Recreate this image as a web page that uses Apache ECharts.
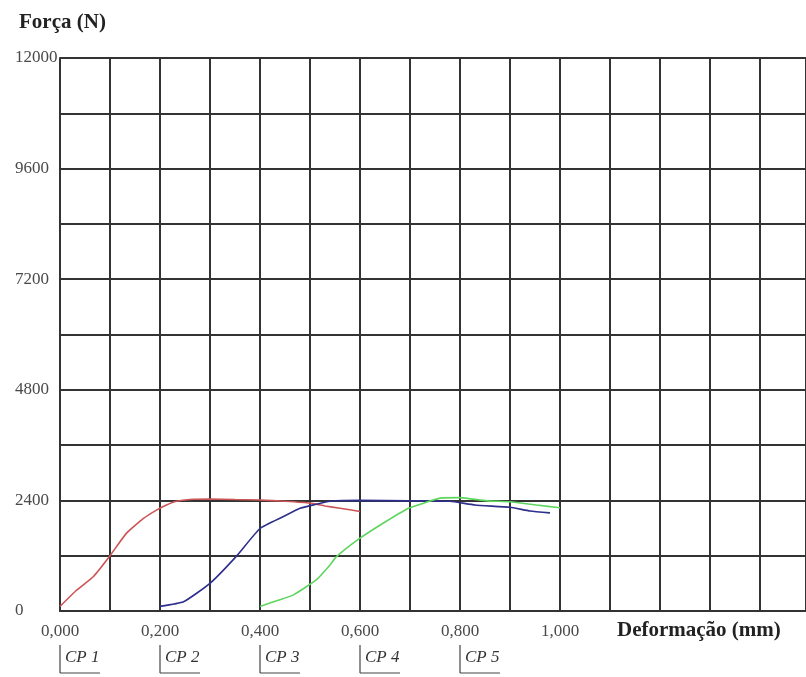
<!DOCTYPE html>
<html>
<head>
<meta charset="utf-8">
<title>Força x Deformação</title>
<script src="https://cdn.jsdelivr.net/npm/echarts@6/dist/echarts.min.js"></script>
<style>
  html, body { margin: 0; padding: 0; background: #ffffff; }
  #chart { width: 806px; height: 677px; }
</style>
</head>
<body>
<div id="chart"></div>
<script>
// Load–displacement curves of the specimens: [deformação (mm), força (N)]
const cp1 = [[0, 100], [0.033, 450], [0.067, 750], [0.1, 1200], [0.133, 1690], [0.167, 2010],
  [0.193, 2190], [0.213, 2300], [0.233, 2380], [0.26, 2420], [0.3, 2430], [0.35, 2420],
  [0.4, 2410], [0.45, 2380], [0.5, 2340], [0.53, 2280], [0.56, 2230], [0.6, 2160]];

const cp2 = [[0.2, 100], [0.247, 200], [0.3, 600], [0.353, 1190], [0.4, 1790], [0.447, 2050],
  [0.48, 2230], [0.51, 2310], [0.54, 2380], [0.6, 2400], [0.7, 2390], [0.78, 2380],
  [0.83, 2300], [0.9, 2250], [0.94, 2170], [0.98, 2130]];

const cp3 = [[0.4, 100], [0.433, 220], [0.467, 350], [0.513, 680], [0.54, 1000], [0.553, 1180],
  [0.6, 1580], [0.647, 1910], [0.697, 2230], [0.727, 2340], [0.76, 2450], [0.8, 2460],
  [0.853, 2390], [0.9, 2370], [0.953, 2300], [1.0, 2240]];

// Specimen markers placed under the deformation axis
const cpNames = ['CP 1', 'CP 2', 'CP 3', 'CP 4', 'CP 5'];
const cpStart = [0, 0.2, 0.4, 0.6, 0.8];

// Axis ranges and tick steps (the deformation axis runs on past the right edge)
const xMin = 0, xMax = 1.492, xStep = 0.1, xLabelMax = 1.0;
const yMin = 0, yMax = 12000, yStep = 1200, yLabelStep = 2400;

const serif = '"Liberation Serif", "Times New Roman", serif';
const gridColor = '#333333';

const chart = echarts.init(document.getElementById('chart'), null, { renderer: 'canvas' });

const curve = (name, data, color) => ({
  name, type: 'line', data, showSymbol: false, smooth: 0.15,
  lineStyle: { color, width: 1.6 }, itemStyle: { color }, z: 5
});

chart.setOption({
  backgroundColor: '#ffffff',
  animation: false,
  title: [
    {
      text: 'Força (N)', left: 14, top: 7,
      textStyle: { fontFamily: serif, fontWeight: 'bold', fontSize: 21, color: '#222222' }
    },
    {
      text: 'Deformação (mm)', left: 612, top: 615,
      textStyle: { fontFamily: serif, fontWeight: 'bold', fontSize: 21, color: '#222222' }
    }
  ],
  grid: { left: 60, top: 58, bottom: 66, right: 0, containLabel: false },
  xAxis: {
    type: 'value', min: xMin, max: xMax, interval: xStep,
    axisLine: { show: true, lineStyle: { color: gridColor, width: 2 } },
    axisTick: { show: false },
    splitLine: { show: true, lineStyle: { color: gridColor, width: 2 } },
    axisLabel: {
      margin: 12, fontFamily: serif, fontSize: 17, color: '#4a4a4a', showMaxLabel: false,
      formatter: v => {
        const k = Math.round(v / xStep);
        const onTick = Math.abs(v - k * xStep) < 1e-6;
        return (onTick && k % 2 === 0 && v <= xLabelMax + 1e-9) ? v.toFixed(3).replace('.', ',') : '';
      }
    }
  },
  yAxis: {
    type: 'value', min: yMin, max: yMax, interval: yStep,
    axisLine: { show: true, lineStyle: { color: gridColor, width: 2 } },
    axisTick: { show: false },
    splitLine: { show: true, lineStyle: { color: gridColor, width: 2 } },
    axisLabel: {
      margin: 45, align: 'left', fontFamily: serif, fontSize: 17, color: '#4a4a4a',
      formatter: v => (Math.round(v) % yLabelStep === 0 ? String(v) : '')
    }
  },
  series: [
    curve('CP 1', cp1, '#cc5555'),
    curve('CP 2', cp2, '#2e2e8c'),
    curve('CP 3', cp3, '#5ed65e'),
    {
      type: 'custom', name: 'CP', silent: true, clip: false, z: 6,
      data: cpStart.map((x, i) => [x, 0, i]),
      renderItem: (params, api) => {
        const p = api.coord([api.value(0), 0]);
        const i = api.value(2);
        const stroke = { stroke: '#444444', lineWidth: 1.2 };
        return {
          type: 'group',
          children: [
            { type: 'line', shape: { x1: p[0], y1: p[1] + 34, x2: p[0], y2: p[1] + 62 }, style: stroke },
            { type: 'line', shape: { x1: p[0], y1: p[1] + 62, x2: p[0] + 40, y2: p[1] + 62 }, style: stroke },
            {
              type: 'text', x: p[0] + 5, y: p[1] + 47,
              style: {
                text: cpNames[i], fill: '#333333', fontFamily: serif, fontStyle: 'italic',
                fontSize: 17, verticalAlign: 'middle', align: 'left'
              }
            }
          ]
        };
      }
    }
  ]
});
</script>
</body>
</html>
